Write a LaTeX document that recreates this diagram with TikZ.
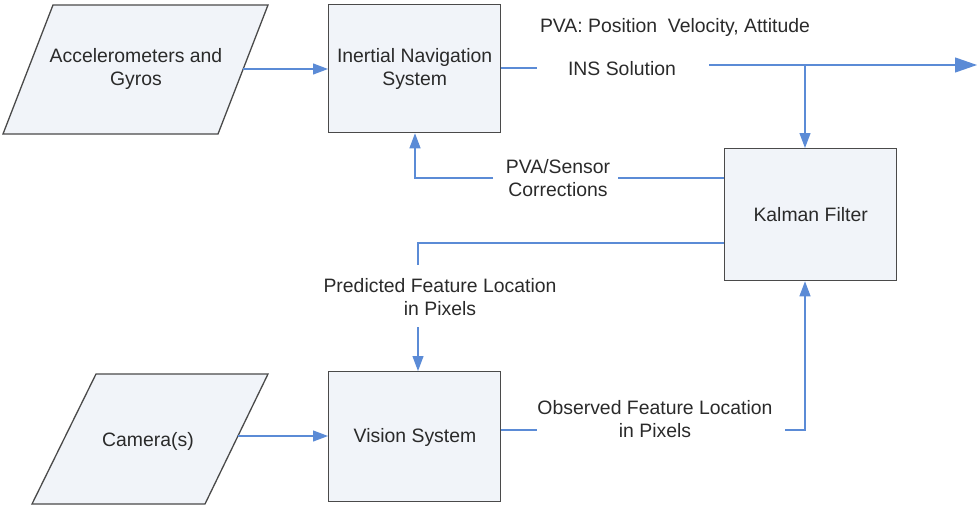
\documentclass[tikz,border=0pt]{standalone}
\usepackage{fontspec}
\setmainfont{Liberation Sans}
\usetikzlibrary{arrows.meta}
\definecolor{flow}{HTML}{5B8BD6}
\definecolor{boxfill}{HTML}{F1F4F9}
\definecolor{boxline}{HTML}{4A4A4A}
\definecolor{txt}{HTML}{2A2A2A}
\begin{document}
\begin{tikzpicture}[x=1pt,y=-1pt,
  block/.style={draw=boxline,fill=boxfill,line width=1.3pt},
  rectblock/.style={block,anchor=north west,minimum width=172pt,inner sep=0pt},
  lbl/.style={text=txt,font=\fontsize{19.4}{23}\selectfont,align=center,inner sep=0pt},
  flowline/.style={draw=flow,line width=1.2pt},
  flowarrow/.style={flowline,-{Triangle[length=15pt,width=11pt]}},
  bigarrow/.style={flowline,-{Triangle[length=22pt,width=15pt]}}]
\useasboundingbox (0,0) rectangle (978,506);

% input parallelograms
\path[block] (53,5) -- (268,5) -- (218,134) -- (3,134) -- cycle;
\node[lbl] (acc) at (136,69) {Accelerometers and\\Gyros};
\coordinate (accout) at (243,69);

\path[block] (96,374) -- (268,374) -- (205,504) -- (32,504) -- cycle;
\node[lbl] (cam) at (148,441) {Camera(s)};
\coordinate (camout) at (238,436);

% processing blocks
\node[rectblock,minimum height=128pt] (ins) at (328,4) {};
\node[lbl] at (ins.center) {Inertial Navigation\\System};
\node[rectblock,minimum height=130pt] (vis) at (328,371) {};
\node[lbl] at (415,437) {Vision System};
\node[rectblock,minimum height=132pt] (kf) at (724,148) {};
\node[lbl] at (kf.center) {Kalman Filter};

% labels on the signal lines
\node[lbl] (pva) at (675,27) {PVA:\ Position\ \ Velocity, Attitude};
\node[lbl] (sol) at (622,69) {INS Solution};
\node[lbl] (corr) at (558,178) {PVA/Sensor\\Corrections};
\node[lbl] (pred) at (440,297) {Predicted Feature Location\\in Pixels};
\node[lbl] (obs) at (655,419) {Observed Feature Location\\in Pixels};

% sensor inputs
\draw[flowarrow] (accout) -- (ins.west |- accout);
\draw[flowarrow] (camout) -- (vis.west |- camout);

% INS solution out and to the filter
\coordinate (solA) at (537,68);
\coordinate (solB) at (709,65);
\coordinate (tap) at (805,65);
\coordinate (outEnd) at (977,65);
\draw[flowline] (ins.east |- solA) -- (solA);
\draw[bigarrow] (solB) -- (outEnd);
\draw[flowarrow] (tap) -- (tap |- kf.north);

% corrections back to the INS
\coordinate (corrA) at (618,178);
\coordinate (corrB) at (493,178);
\coordinate (corrC) at (415,178);
\draw[flowline] (kf.west |- corrA) -- (corrA);
\draw[flowarrow] (corrB) -- (corrC) -- (corrC |- ins.south);

% predicted feature location to the vision system
\coordinate (predA) at (418,243);
\coordinate (predB) at (418,265);
\coordinate (predC) at (418,327);
\draw[flowline] (kf.west |- predA) -- (predA) -- (predB);
\draw[flowarrow] (predC) -- (predC |- vis.north);

% observed feature location to the filter
\coordinate (obsA) at (537,430);
\coordinate (obsB) at (785,430);
\coordinate (obsC) at (805,430);
\draw[flowline] (vis.east |- obsA) -- (obsA);
\draw[flowarrow] (obsB) -- (obsC) -- (obsC |- kf.south);
\end{tikzpicture}
\end{document}
